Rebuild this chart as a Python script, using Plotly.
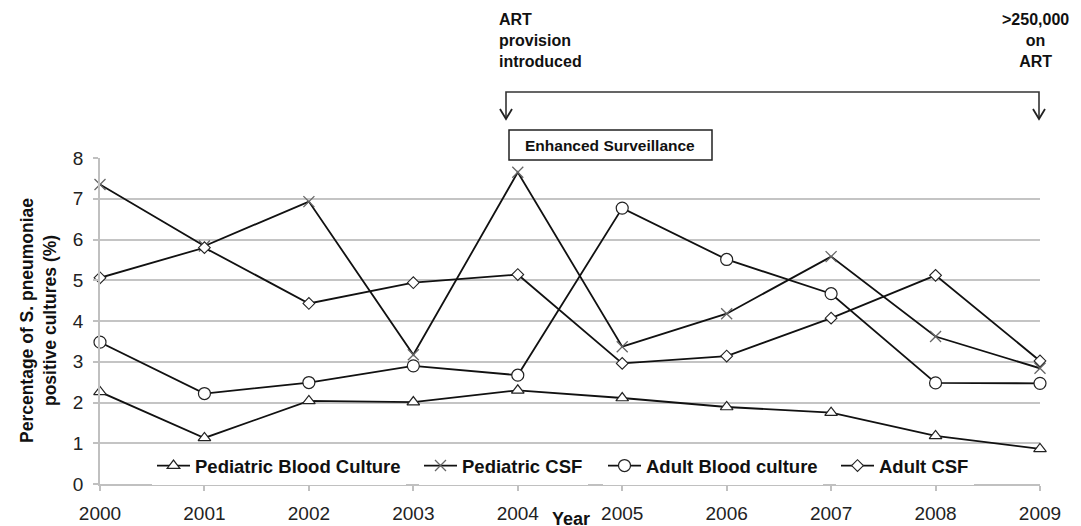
import plotly.graph_objects as go

years = [2000, 2001, 2002, 2003, 2004, 2005, 2006, 2007, 2008, 2009]
ped_blood = [2.26, 1.13, 2.04, 2.01, 2.30, 2.11, 1.89, 1.75, 1.18, 0.86]
ped_csf = [7.35, 5.84, 6.93, 3.17, 7.65, 3.37, 4.18, 5.58, 3.62, 2.84]
adult_blood = [3.48, 2.22, 2.49, 2.90, 2.67, 6.77, 5.51, 4.67, 2.48, 2.47]
adult_csf = [5.06, 5.80, 4.43, 4.94, 5.14, 2.96, 3.14, 4.07, 5.12, 3.02]

names = ["Pediatric Blood Culture", "Pediatric CSF", "Adult Blood culture", "Adult CSF"]
y_ticks = [0, 1, 2, 3, 4, 5, 6, 7, 8]

# page body has an 8px default margin; size the figure to fill the rest of the window
OFF = 8
W, H = 1081 - OFF, 526 - OFF
ML, MR, MT, MB = 100 - OFF, 41, 158 - OFF, 42
PW = W - ML - MR
PH = H - MT - MB


def px(x):  # window pixel -> paper
    return (x - OFF - ML) / PW


def py(y):
    return (H - MB - (y - OFF)) / PH


FONT = "Liberation Sans, Arial, sans-serif"
LINE = dict(color="#111111", width=1.8)
legend_ids = ["legend", "legend2", "legend3", "legend4"]
legend_x = [152, 419, 603, 836]

markers = [
    dict(symbol="triangle-up", size=11, color="white", line=dict(color="#222222", width=1.2)),
    dict(symbol="x-thin-open", size=11, color="#666666", line=dict(color="#666666", width=1.3)),
    dict(symbol="circle", size=12, color="white", line=dict(color="#222222", width=1.2)),
    dict(symbol="diamond", size=9, color="white", line=dict(color="#222222", width=1.1)),
]

fig = go.Figure()
for name, vals, mk, lg in zip(names, [ped_blood, ped_csf, adult_blood, adult_csf], markers, legend_ids):
    fig.add_trace(go.Scatter(x=years, y=vals, name=name, mode="lines+markers",
                             line=LINE, marker=mk, legend=lg, cliponaxis=False))

shapes = []
# bracket
shapes.append(dict(type="path", xref="paper", yref="paper",
                   path=f"M {px(506)} {py(118)} L {px(506)} {py(92)} L {px(1039)} {py(92)} L {px(1039)} {py(118)}",
                   line=dict(color="#333333", width=1.6)))
for ax in (506, 1039):
    shapes.append(dict(type="path", xref="paper", yref="paper",
                       path=f"M {px(ax-6)} {py(109)} L {px(ax)} {py(119)} L {px(ax+6)} {py(109)}",
                       line=dict(color="#222222", width=1.8)))
# Enhanced surveillance box
shapes.append(dict(type="rect", xref="paper", yref="paper",
                   x0=px(509), x1=px(712), y0=py(160), y1=py(130),
                   line=dict(color="#222222", width=1.5), fillcolor="white", layer="above"))

annotations = [
    dict(text="ART<br>provision<br>introduced", xref="paper", yref="paper",
         x=px(497), y=py(9), xanchor="left", yanchor="top", align="left",
         showarrow=False, font=dict(family=FONT, size=16, color="#111111", weight="bold")),
    dict(text="&gt;250,000<br>on<br>ART", xref="paper", yref="paper",
         x=px(1035), y=py(9), xanchor="center", yanchor="top", align="center",
         showarrow=False, font=dict(family=FONT, size=16, color="#111111", weight="bold")),
    dict(text="Enhanced Surveillance", xref="paper", yref="paper",
         x=px(610), y=py(145), xanchor="center", yanchor="middle",
         showarrow=False, font=dict(family=FONT, size=15.5, color="#111111", weight="bold")),
    dict(text="Year", xref="paper", yref="paper",
         x=px(571), y=py(519), xanchor="center", yanchor="middle",
         showarrow=False, font=dict(family=FONT, size=18, color="#111111", weight="bold")),
    dict(text="Percentage of S. pneumoniae<br>positive cultures (%)", xref="paper", yref="paper",
         x=px(38), y=py(321), xanchor="center", yanchor="middle", textangle=-90,
         showarrow=False, font=dict(family=FONT, size=17.5, color="#111111", weight="bold")),
]

legend_style = dict(orientation="h", xanchor="left", yanchor="middle",
                    bgcolor="white", borderwidth=0,
                    font=dict(family=FONT, size=18.5, color="#111111", weight="bold"),
                    itemwidth=33)
layout_legends = {lg: dict(legend_style, x=px(lx), y=py(466)) for lg, lx in zip(legend_ids, legend_x)}

fig.update_layout(
    width=W, height=H,
    margin=dict(l=ML, r=MR, t=MT, b=MB, pad=0, autoexpand=False),
    paper_bgcolor="white", plot_bgcolor="white",
    font=dict(family=FONT, color="#222222"),
    showlegend=True,
    shapes=shapes,
    annotations=annotations,
    xaxis=dict(range=[2000, 2009], tickmode="array", tickvals=years,
               ticktext=[str(y) for y in years], showgrid=False, automargin=False,
               showline=True, linecolor="#c0c0c0", linewidth=1.5,
               ticks="outside", ticklen=5, tickcolor="#c0c0c0", tickwidth=1.5,
               tickfont=dict(family=FONT, size=19, color="#222222"),
               ticklabelstandoff=6, zeroline=False),
    yaxis=dict(range=[0, 8], tickmode="array", tickvals=y_ticks, automargin=False,
               showgrid=True, gridcolor="#c4c4c4", gridwidth=1.5,
               showline=True, linecolor="#c0c0c0", linewidth=1.5,
               ticks="outside", ticklen=5, tickcolor="#c0c0c0", tickwidth=1.5,
               tickfont=dict(family=FONT, size=19, color="#222222"),
               ticklabelstandoff=6, zeroline=False),
    **layout_legends,
)

fig.write_html("out.html")
